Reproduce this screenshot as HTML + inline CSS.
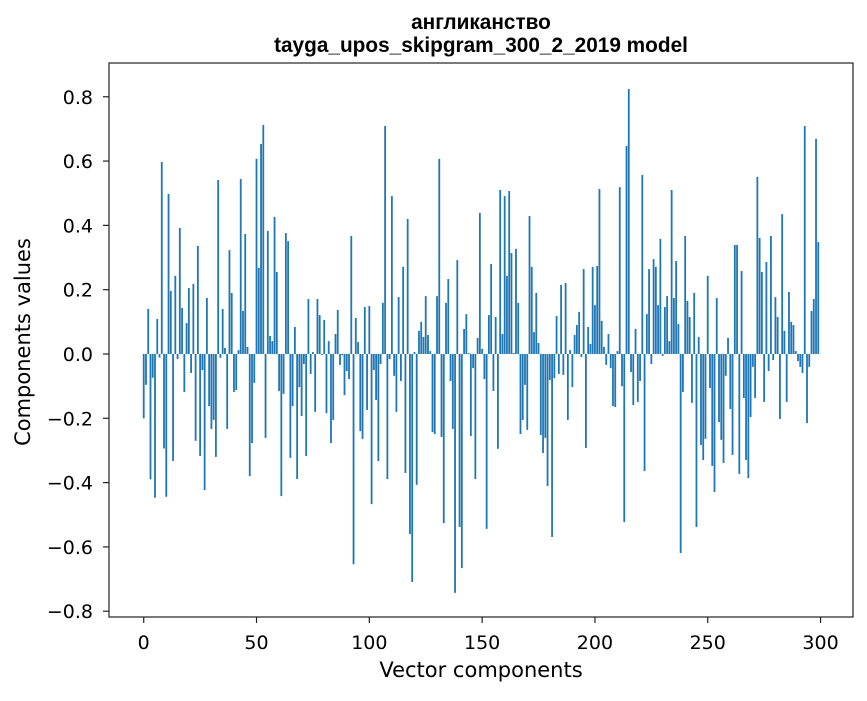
<!DOCTYPE html>
<html><head><meta charset="utf-8"><style>
body{margin:0;background:#fff}
svg text{font-family:"DejaVu Sans","Liberation Sans",sans-serif}
svg text.title{font-family:"Liberation Sans","DejaVu Sans",sans-serif}
</style></head><body>
<svg id="chart" width="867" height="696" xmlns="http://www.w3.org/2000/svg">
<rect width="867" height="696" fill="#fff"/>
<text class="title" x="481" y="29" text-anchor="middle" font-size="20.8" font-weight="bold">англиканство</text>
<text class="title" x="481" y="52" text-anchor="middle" font-size="20.8" font-weight="bold">tayga_upos_skipgram_300_2_2019 model</text>
<g id="bars"></g>
<g id="axes"></g>
<text x="481" y="677" text-anchor="middle" font-size="21">Vector components</text>
<text transform="translate(30,342) rotate(-90)" text-anchor="middle" font-size="21">Components values</text>
</svg>
<script>
const values1 = [-0.20,-0.096,0.14,-0.39,-0.074,-0.447,0.109,-0.011,0.597,-0.294,-0.444,0.498,0.196,-0.333,0.243,-0.016,0.392,0.143,-0.118,0.096,0.205,-0.059,0.218,-0.27,0.336,-0.317,-0.05,-0.423,0.174,-0.162,-0.233,-0.205,-0.32,0.541,-0.012,0.14,0.019,-0.233,0.323,0.19,-0.118,-0.112,0.012,0.544,0.134,0.373,0.022,-0.38,-0.277,-0.09];
const values2 = [0.607,0.268,0.653,0.712,-0.261,0.383,0.056,0.04,0.426,0.255,-0.115,-0.442,-0.124,0.376,0.351,-0.323,-0.162,0.084,-0.389,-0.103,-0.193,-0.031,-0.317,0.171,-0.062,0.006,-0.18,0.171,0.121,-0.003,0.106,-0.184,0.04,-0.277,-0.205,0.062,0.137,-0.034,-0.004,-0.128,-0.053,-0.078,0.367,-0.654,0.112,0.037,-0.24,-0.264,0.146,-0.174];
const values3 = [0.149,-0.467,-0.05,-0.143,-0.333,-0.031,0.159,0.709,-0.389,-0.016,0.491,-0.068,-0.18,0.177,-0.084,0.271,-0.37,0.42,-0.56,-0.709,0.006,-0.407,0.072,0.1,0.053,0.18,0.059,0.009,-0.243,-0.249,0.18,0.607,-0.258,-0.526,0.159,0.233,-0.084,-0.233,-0.743,0.292,-0.538,-0.666,0.078,0.124,0.003,-0.255,-0.044,-0.389,0.05,0.439];
const values4 = [0.016,-0.078,-0.544,0.121,0.28,-0.115,0.115,-0.295,0.51,0.062,0.491,0.243,0.507,0.314,0.003,0.327,0.159,-0.249,-0.205,-0.096,-0.236,0.429,0.271,0.068,0.19,0.034,-0.252,-0.308,-0.261,-0.411,-0.081,-0.569,-0.075,0.118,-0.062,0.215,-0.065,0.221,-0.205,0.012,-0.103,0.059,0.09,0.131,-0.009,0.264,-0.292,0.084,0.031,0.271];
const values5 = [0.152,0.274,0.513,0.103,0.022,-0.034,0.062,-0.044,-0.162,-0.165,0.009,0.519,-0.1,-0.523,0.647,0.824,-0.056,-0.159,0.078,-0.149,-0.084,0.557,-0.364,0.124,0.264,-0.031,0.295,0.271,0.152,0.358,-0.006,0.146,0.18,0.04,0.51,0.174,0.289,0.093,-0.619,-0.118,0.367,0.165,0.115,-0.152,0.19,-0.538,0.053,-0.283,-0.33,-0.264];
const values6 = [0.243,-0.106,-0.348,-0.429,0.174,-0.212,-0.267,-0.339,-0.068,0.05,-0.171,-0.314,0.339,0.339,-0.373,0.258,-0.137,-0.33,-0.386,-0.196,-0.04,-0.137,0.551,0.361,0.255,-0.149,0.286,-0.053,0.367,-0.019,0.177,0.115,-0.202,0.435,0.072,-0.149,0.193,0.1,0.09,0.009,-0.022,-0.04,-0.059,0.709,-0.215,-0.04,0.134,0.171,0.669,0.348];
const values = [].concat(values1,values2,values3,values4,values5,values6);
const xTicks = [0,50,100,150,200,250,300];
const yTicks = [-0.8,-0.6,-0.4,-0.2,0,0.2,0.4,0.6,0.8];
const yTickLabels = ["−0.8","−0.6","−0.4","−0.2","0.0","0.2","0.4","0.6","0.8"];

const L=109,R=853,T=63,B=617;
const xMin=-15.39,xMax=314.39,yMin=-0.818,yMax=0.905;
const xs=v=>L+(v-xMin)/(xMax-xMin)*(R-L);
const ys=v=>B-(v-yMin)/(yMax-yMin)*(B-T);
const NS="http://www.w3.org/2000/svg";
const bars=document.getElementById('bars');
values.forEach((v,i)=>{
  const r=document.createElementNS(NS,'rect');
  const x0=xs(i-0.4),x1=xs(i+0.4);
  const y0=ys(Math.max(v,0)),y1=ys(Math.min(v,0));
  r.setAttribute('x',x0);r.setAttribute('width',x1-x0);
  r.setAttribute('y',y0);r.setAttribute('height',Math.max(y1-y0,0.01));
  r.setAttribute('fill','#1f77b4');
  
  
  bars.appendChild(r);
});
const ax=document.getElementById('axes');
const fr=document.createElementNS(NS,'rect');
fr.setAttribute('x',L);fr.setAttribute('y',T);fr.setAttribute('width',R-L);fr.setAttribute('height',B-T);
fr.setAttribute('fill','none');fr.setAttribute('stroke','#222');fr.setAttribute('stroke-width','1.2');


ax.appendChild(fr);
xTicks.forEach(t=>{
  const x=xs(t);
  const l=document.createElementNS(NS,'line');
  l.setAttribute('x1',x);l.setAttribute('x2',x);l.setAttribute('y1',B);l.setAttribute('y2',B+6);l.setAttribute('stroke','#222');l.setAttribute('stroke-width','1.2');
  
  
  ax.appendChild(l);
  const tx=document.createElementNS(NS,'text');
  tx.setAttribute('x',x);tx.setAttribute('y',649);tx.setAttribute('text-anchor','middle');tx.setAttribute('font-size','19');
  tx.textContent=t;
  
  
  ax.appendChild(tx);
});
yTicks.forEach((t,i)=>{
  const y=ys(t);
  const l=document.createElementNS(NS,'line');
  l.setAttribute('x1',L-6);l.setAttribute('x2',L);l.setAttribute('y1',y);l.setAttribute('y2',y);l.setAttribute('stroke','#222');l.setAttribute('stroke-width','1.2');
  
  
  ax.appendChild(l);
  const tx=document.createElementNS(NS,'text');
  tx.setAttribute('x',93);tx.setAttribute('y',y+7);tx.setAttribute('text-anchor','end');tx.setAttribute('font-size','19');
  tx.textContent=yTickLabels[i];
  
  
  ax.appendChild(tx);
});
</script>
</body></html>
